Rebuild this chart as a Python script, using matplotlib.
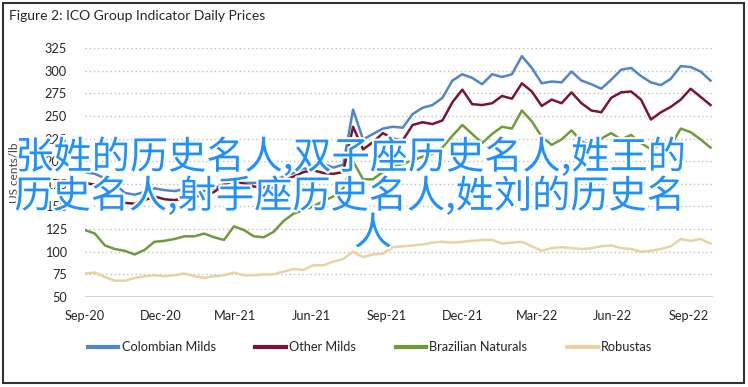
import matplotlib
matplotlib.use("Agg")
import matplotlib.pyplot as plt
import matplotlib.dates as mdates
import matplotlib.patheffects as pe
from matplotlib.patches import Rectangle
import pandas as pd

# sample dates (every 12 days from 1 Sep 2020)
dates = pd.date_range("2020-09-01", periods=64, freq="12D")

colombian_milds = [
    188, 186, 181, 175, 165, 163, 166, 170, 168, 167, 169, 168, 167, 170, 175, 178,
    176, 176, 177, 178, 183, 187, 192, 191, 197, 193, 196, 257, 224, 230, 236, 238,
    237, 252, 259, 262, 270, 289, 296, 292, 285, 296, 293, 296, 316, 303, 286, 288,
    287, 299, 289, 285, 280, 290, 301, 303, 294, 287, 284, 291, 305, 304, 299, 289,
]
other_milds = [
    176, 174, 170, 164, 154, 153, 157, 161, 158, 157, 159, 161, 162, 166, 174, 179,
    175, 172, 171, 171, 179, 183, 188, 190, 187, 186, 188, 238, 213, 221, 231, 225,
    223, 240, 243, 241, 245, 265, 279, 263, 262, 264, 272, 269, 286, 277, 261, 268,
    264, 276, 264, 256, 254, 270, 276, 277, 268, 246, 254, 260, 268, 280, 271, 262,
]
brazilian_naturals = [
    124, 120, 107, 103, 101, 97, 102, 111, 112, 114, 117, 117, 120, 116, 113, 128,
    124, 117, 116, 122, 134, 142, 146, 150, 156, 161, 170, 200, 180, 180, 188, 194,
    197, 201, 205, 208, 215, 228, 240, 230, 220, 230, 238, 236, 256, 244, 227, 218,
    224, 234, 222, 217, 225, 231, 224, 229, 220, 213, 218, 217, 236, 232, 224, 215,
]
robustas = [
    76, 77, 72, 68, 68, 71, 73, 74, 73, 74, 76, 73, 71, 73, 74, 77,
    74, 74, 75, 75, 78, 81, 80, 85, 85, 89, 92, 100, 94, 97, 98, 105,
    106, 107, 108, 110, 111, 110, 111, 112, 113, 113, 109, 110, 111, 106, 101, 104,
    105, 104, 103, 104, 106, 107, 104, 103, 100, 101, 103, 106, 114, 112, 114, 109,
]

series_names = ["Colombian Milds", "Other Milds", "Brazilian Naturals", "Robustas"]
series_colors = ["#4F86C6", "#7A1531", "#6F9C3A", "#E9D3A2"]

y_ticks = [50, 75, 100, 125, 150, 175, 200, 225, 250, 275, 300, 325]
x_ticks = pd.to_datetime(["2020-09-01", "2020-12-01", "2021-03-01", "2021-06-01",
                          "2021-09-01", "2021-12-01", "2022-03-01", "2022-06-01",
                          "2022-09-01"])

overlay_lines = ["张姓的历史名人,双子座历史名人,姓王的", "历史名人,射手座历史名人,姓刘的历史名", "人"]

plt.rcParams["font.family"] = ["Lato", "DejaVu Sans"]
text_color = "#262626"

fig = plt.figure(figsize=(7.48, 3.87), dpi=100)
ax = fig.add_axes([85 / 748, 1 - 297 / 387, 628 / 748, 249 / 387])

values = [colombian_milds, other_milds, brazilian_naturals, robustas]
for name, vals, color in zip(series_names, values, series_colors):
    ax.plot(dates, vals, color=color, lw=1.8, label=name, zorder=3)

ax.set_ylim(50, 325)
ax.set_xlim(pd.Timestamp("2020-09-01"), pd.Timestamp("2022-09-30"))
ax.set_yticks(y_ticks)
ax.set_xticks(x_ticks)
ax.xaxis.set_major_formatter(mdates.DateFormatter("%b-%y"))

for v in y_ticks[1:]:
    ax.axhline(v, color="#BFBFBF", lw=1, ls=(0, (1, 2)), zorder=1)
ax.axhline(50, color="#D0D0D0", lw=1.2, zorder=1)

for s in ax.spines.values():
    s.set_visible(False)
ax.tick_params(length=0, labelsize=9.2, colors=text_color)
ax.tick_params(axis="y", pad=13)
ax.tick_params(axis="x", pad=9)
ax.set_ylabel("US cents/lb", fontsize=8.5, color="#404040", labelpad=18)

fig.text(9 / 748, 1 - 16 / 387, "Figure 2: ICO Group Indicator Daily Prices",
         fontsize=10, color=text_color, va="center", ha="left")

leg = fig.legend(loc="center", bbox_to_anchor=(370 / 748, 1 - 347 / 387), ncol=4,
                 frameon=False, fontsize=9.2, handlelength=2.4, handletextpad=0.25,
                 columnspacing=3.1)
for line in leg.get_lines():
    line.set_linewidth(3)
for t in leg.get_texts():
    t.set_color(text_color)

# overlaid text banner
line_y = [158, 197, 234]
line_x = [351, 350, 373]
for txt, x, y in zip(overlay_lines, line_x, line_y):
    fig.text(x / 748, 1 - y / 387, txt, fontsize=27.5, color="#1E90FF",
             family=["Noto Sans CJK SC", "DejaVu Sans"], ha="center", va="center",
             zorder=10, path_effects=[pe.withStroke(linewidth=3, foreground="white")])

fig.patches.append(Rectangle((3 / 748, 4 / 387), 741 / 748, 380 / 387,
                             transform=fig.transFigure, fill=False,
                             edgecolor="#333333", lw=1.5))

fig.savefig("out.png", dpi=100)
